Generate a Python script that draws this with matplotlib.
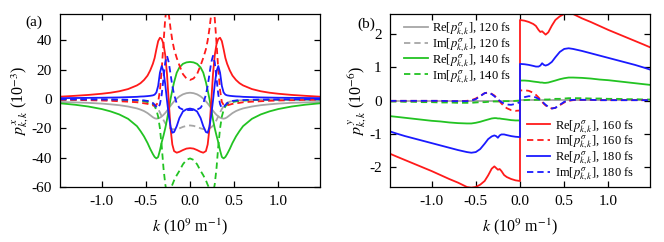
import numpy as np
import matplotlib
matplotlib.use('Agg')
import matplotlib.pyplot as plt

plt.rcParams['font.family'] = ['Liberation Serif', 'DejaVu Serif']
plt.rcParams['mathtext.fontset'] = 'stix'
plt.rcParams['axes.unicode_minus'] = False

# ── panel (a): p^x_{k,k}, even in k, values read for k >= 0 (units 1e-3) ─────
k_a = [0, .04, .08, .12, .15, .18, .20, .22, .24, .26, .28, .30, .32, .34, .36,
       .38, .40, .42, .45, .48, .52, .56, .60, .70, .80, .90, 1.0, 1.15, 1.3, 1.47]

re120_a = [4.3, 4.0, 3.2, 1.8, 0.3, -1.6, -3.0, -4.6, -6.3, -8.0, -9.5, -10.8, -11.9, -12.7, -13.2,
           -13.4, -13.1, -12.4, -11.0, -9.6, -8.2, -7.2, -6.4, -5.1, -4.2, -3.6, -3.1, -2.6, -2.3, -2.0]
im120_a = [-18.0, -18.3, -19.0, -20.0, -20.5, -20.7, -20.5, -20.0, -19.3, -18.2, -16.5, -14.3, -11.8, -9.2, -6.8,
           -4.9, -3.5, -2.6, -1.8, -1.4, -1.1, -0.9, -0.8, -0.6, -0.5, -0.45, -0.4, -0.35, -0.3, -0.3]
re140_a = [25.3, 25.0, 24.0, 21.5, 18.0, 11.5, 6.0, 0.0, -7.0, -14.0, -20.0, -25.0, -29.5, -35.0, -39.5,
           -40.5, -39.5, -37.5, -34.0, -30.0, -25.5, -21.8, -18.5, -13.5, -10.5, -8.4, -6.8, -5.1, -3.9, -2.9]
im140_a = [-40.5, -41.5, -44.5, -49.0, -52.0, -55.5, -58.5, -61.0, -64.0, -65.0, -58.0, -47.0, -32.0, -20.0, -12.0,
           -7.5, -5.0, -3.7, -2.7, -2.1, -1.6, -1.3, -1.1, -0.8, -0.6, -0.5, -0.45, -0.4, -0.35, -0.3]
re160_a = [-33.5, -33.8, -34.8, -36.0, -36.6, -35.5, -31.0, -20.0, -2.0, 17.0, 30.0, 37.5, 41.0, 41.8, 39.5,
           34.0, 28.0, 24.0, 19.5, 16.0, 13.0, 10.8, 9.3, 6.8, 5.3, 4.3, 3.6, 2.8, 2.2, 1.6]
im160_a = [13.0, 14.0, 17.0, 23.0, 28.0, 34.0, 40.0, 48.0, 58.0, 64.0, 55.0, 38.0, 20.0, 6.0, -2.0,
           -4.0, -4.5, -4.3, -3.8, -3.3, -2.9, -2.6, -2.2, -1.8, -1.5, -1.2, -1.0, -0.8, -0.6, -0.5]
re180_a = [-6.5, -7.0, -8.5, -13.0, -18.5, -22.5, -23.0, -19.0, -11.0, -1.0, 10.0, 19.0, 22.5, 18.0, 9.0,
           4.5, 3.0, 2.5, 2.2, 2.0, 1.8, 1.7, 1.5, 1.3, 1.1, 1.0, 0.9, 0.8, 0.7, 0.6]
im180_a = [-7.5, -7.5, -7.2, -6.0, -3.0, 3.0, 9.0, 17.0, 25.0, 29.5, 25.0, 14.0, 3.0, -3.5, -6.2,
           -5.5, -4.0, -2.8, -1.8, -1.3, -1.0, -0.8, -0.7, -0.5, -0.4, -0.35, -0.3, -0.25, -0.2, -0.2]

# ── panel (b): p^y_{k,k}, odd in k, values read for k >= 0 (units 1e-6) ──────
k_b = [0, .05, .10, .15, .18, .21, .23, .25, .27, .29, .32, .36, .40, .45, .50,
       .55, .60, .70, .80, .90, 1.0, 1.1, 1.2, 1.3, 1.4, 1.47]

re120_b = [0.02] * 26
im120_b = [0.01] * 26
re140_b = [0.60, 0.60, 0.59, 0.57, 0.56, 0.55, 0.54, 0.54, 0.53, 0.53, 0.54, 0.57, 0.60, 0.64, 0.67,
           0.69, 0.69, 0.68, 0.66, 0.63, 0.61, 0.58, 0.55, 0.52, 0.49, 0.47]
im140_b = [0.0, 0.01, 0.02, 0.02, 0.02, 0.02, 0.03, 0.03, 0.03, 0.03, 0.03, 0.04, 0.05, 0.05, 0.06,
           0.07, 0.07, 0.07, 0.06, 0.06, 0.05, 0.05, 0.04, 0.04, 0.03, 0.03]
re160_b = [2.42, 2.40, 2.36, 2.30, 2.24, 2.12, 2.06, 2.08, 2.03, 1.98, 2.05, 2.25, 2.42, 2.53, 2.60,
           2.62, 2.60, 2.47, 2.36, 2.24, 2.12, 2.01, 1.90, 1.79, 1.68, 1.60]
im160_b = [0.30, 0.31, 0.29, 0.23, 0.17, 0.09, 0.03, -0.04, -0.10, -0.15, -0.20, -0.24, -0.22, -0.14, -0.06,
           -0.01, 0.01, 0.02, 0.02, 0.01, 0.01, 0.01, 0.01, 0.01, 0.01, 0.01]
re180_b = [1.10, 1.09, 1.07, 1.04, 1.02, 1.02, 1.05, 1.12, 1.07, 1.05, 1.08, 1.16, 1.30, 1.46, 1.55,
           1.57, 1.55, 1.49, 1.42, 1.35, 1.28, 1.21, 1.14, 1.07, 0.99, 0.93]
im180_b = [0.05, 0.10, 0.13, 0.12, 0.09, 0.05, 0.01, -0.03, -0.08, -0.13, -0.19, -0.24, -0.22, -0.13, -0.04,
           0.0, 0.02, 0.02, 0.02, 0.01, 0.01, 0.01, 0.01, 0.01, 0.01, 0.01]


def even(k, v):
    k = np.asarray(k); v = np.asarray(v)
    return np.concatenate([-k[::-1], k[1:]]), np.concatenate([v[::-1], v[1:]])


def odd(k, v):
    k = np.asarray(k); v = np.asarray(v)
    return np.concatenate([-k[::-1], k]), np.concatenate([-v[::-1], v])


GRAY, GREEN, RED, BLUE = '#a6a6a6', '#22c322', '#ff1a1a', '#1a1aff'
DASH = (0, (3.5, 2.2))
LW = 1.3

series = [
    ('120 fs', GRAY, re120_a, im120_a, re120_b, im120_b),
    ('140 fs', GREEN, re140_a, im140_a, re140_b, im140_b),
    ('160 fs', RED, re160_a, im160_a, re160_b, im160_b),
    ('180 fs', BLUE, re180_a, im180_a, re180_b, im180_b),
]

fig = plt.figure(figsize=(6.64, 2.42), dpi=100)
ax1 = fig.add_axes([60 / 664, 1 - 187 / 242, 260 / 664, 173 / 242])
ax2 = fig.add_axes([390 / 664, 1 - 187 / 242, 260 / 664, 173 / 242])

handles = []
for name, c, ra, ia, rb, ib in series:
    ax1.plot(*even(k_a, ra), color=c, lw=LW)
    ax1.plot(*even(k_a, ia), color=c, lw=LW, ls=DASH)
    h1, = ax2.plot(*odd(k_b, rb), color=c, lw=LW,
                   label=r'Re[$p^{\sigma}_{k,k}$], ' + name)
    h2, = ax2.plot(*odd(k_b, ib), color=c, lw=LW, ls=DASH,
                   label=r'Im[$p^{\sigma}_{k,k}$], ' + name)
    handles += [h1, h2]

ax1.set_ylim(-60, 58)
ax1.set_yticks([-60, -40, -20, 0, 20, 40])
ax2.set_ylim(-2.6, 2.6)
ax2.set_yticks([-2, -1, 0, 1, 2])

for ax in (ax1, ax2):
    ax.set_xlim(-1.47, 1.47)
    ax.set_xticks([-1.0, -0.5, 0.0, 0.5, 1.0])
    ax.set_xticklabels(['-1.0', '-0.5', '0.0', '0.5', '1.0'])
    ax.tick_params(direction='in', top=True, right=True, length=4, width=0.9,
                   labelsize=11, pad=6)
    for sp in ax.spines.values():
        sp.set_linewidth(0.9)
    ax.set_xlabel(r'$k$ (10$^{9}$ m$^{-1}$)', fontsize=11.5, labelpad=6)

ax1.set_ylabel(r'$p^{\,x}_{k,k}$ (10$^{-3}$)', fontsize=11.5, labelpad=0)
ax2.set_ylabel(r'$p^{\,y}_{k,k}$ (10$^{-6}$)', fontsize=11.5, labelpad=0)

fig.text(25 / 664, 1 - 22 / 242, '(a)', fontsize=11, va='center')
fig.text(357 / 664, 1 - 24 / 242, '(b)', fontsize=11, va='center')

leg_kw = dict(frameon=False, fontsize=9, handlelength=1.9, handletextpad=0.35,
              labelspacing=-0.15, borderaxespad=0, borderpad=0)
leg1 = ax2.legend(handles=handles[:4], loc='upper left',
                  bbox_to_anchor=(0.055, 0.965), **leg_kw)
ax2.add_artist(leg1)
ax2.legend(handles=handles[4:], loc='upper left',
           bbox_to_anchor=(0.525, 0.40), **leg_kw)

fig.savefig('out.png', dpi=100)
